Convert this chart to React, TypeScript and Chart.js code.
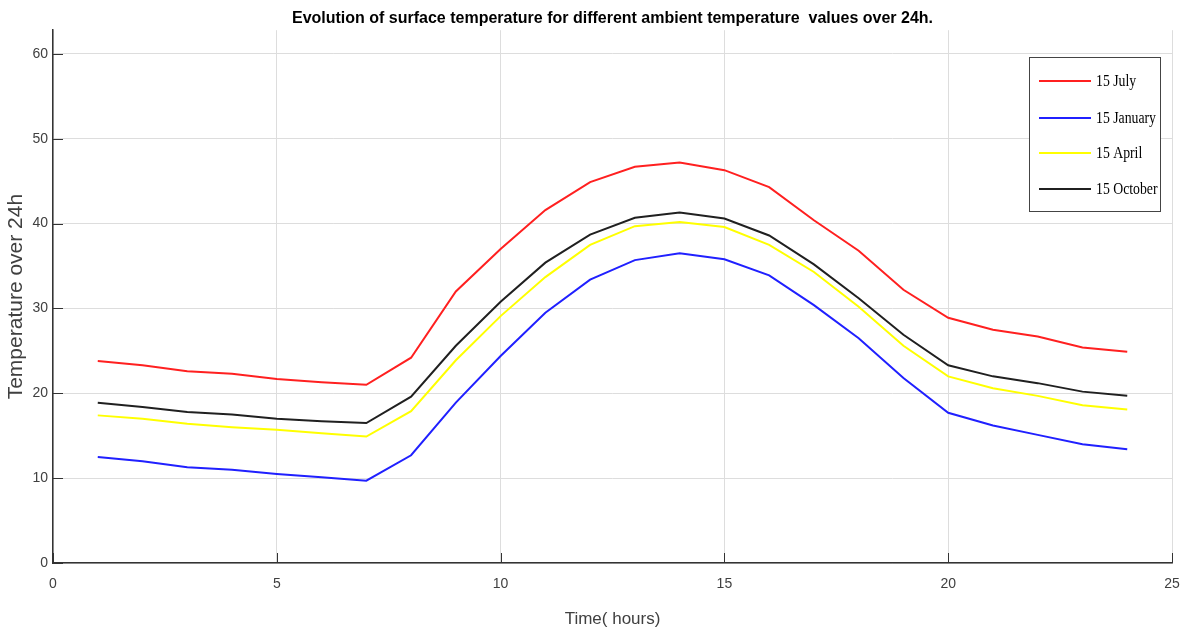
import React, { useEffect, useRef } from "react";
import { Chart, registerables } from "chart.js";

Chart.register(...registerables);

const hours = [1, 2, 3, 4, 5, 6, 7, 8, 9, 10, 11, 12, 13, 14, 15, 16, 17, 18, 19, 20, 21, 22, 23, 24];
const july = [23.8, 23.3, 22.6, 22.3, 21.7, 21.3, 21.0, 24.2, 32.0, 37.0, 41.6, 44.9, 46.7, 47.2, 46.3, 44.3, 40.4, 36.8, 32.2, 28.9, 27.5, 26.7, 25.4, 24.9];
const january = [12.5, 12.0, 11.3, 11.0, 10.5, 10.1, 9.7, 12.7, 18.9, 24.4, 29.5, 33.4, 35.7, 36.5, 35.8, 33.9, 30.4, 26.5, 21.8, 17.7, 16.2, 15.1, 14.0, 13.4];
const april = [17.4, 17.0, 16.4, 16.0, 15.7, 15.3, 14.9, 17.9, 23.9, 29.1, 33.7, 37.5, 39.7, 40.2, 39.6, 37.5, 34.3, 30.2, 25.6, 22.0, 20.6, 19.7, 18.6, 18.1];
const october = [18.9, 18.4, 17.8, 17.5, 17.0, 16.7, 16.5, 19.6, 25.6, 30.8, 35.4, 38.7, 40.7, 41.3, 40.6, 38.6, 35.2, 31.2, 26.9, 23.3, 22.0, 21.2, 20.2, 19.7];
const seriesLabels = ["15 July", "15 January", "15 April", "15 October"];
const seriesColors = ["#ff2020", "#2020ff", "#ffff00", "#202020"];
const yTickValues = [0, 10, 20, 30, 40, 50, 60];
const titleText = "Evolution of surface temperature for different ambient temperature  values over 24h.";
const xTitle = "Time( hours)";
const yTitle = "Temperature over 24h";

const SANS = "'Liberation Sans', Arial, sans-serif";

const inwardTicks = {
  id: "inwardTicks",
  afterDatasetsDraw(chart: any) {
    const { ctx, chartArea, scales } = chart;
    ctx.save();
    ctx.strokeStyle = "#333";
    ctx.lineWidth = 1;
    scales.y.ticks.forEach((t: any) => {
      const y = Math.round(scales.y.getPixelForValue(t.value)) + 0.5;
      ctx.beginPath();
      ctx.moveTo(chartArea.left, y);
      ctx.lineTo(chartArea.left + 10, y);
      ctx.stroke();
    });
    scales.x.ticks.forEach((t: any) => {
      const x = Math.round(scales.x.getPixelForValue(t.value)) + 0.5;
      ctx.beginPath();
      ctx.moveTo(x, chartArea.bottom);
      ctx.lineTo(x, chartArea.bottom - 10);
      ctx.stroke();
    });
    ctx.restore();
  },
};

const boxLegend = {
  id: "boxLegend",
  afterDraw(chart: any) {
    const { ctx } = chart;
    const bx = 1029.5, by = 57.5, bw = 131, bh = 154;
    ctx.save();
    ctx.fillStyle = "#ffffff";
    ctx.fillRect(bx, by, bw, bh);
    ctx.strokeStyle = "#444";
    ctx.lineWidth = 1;
    ctx.strokeRect(bx, by, bw, bh);
    const rows = [81, 118, 153, 189];
    chart.data.datasets.forEach((ds: any, i: number) => {
      const y = rows[i];
      ctx.strokeStyle = ds.borderColor;
      ctx.lineWidth = 2;
      ctx.beginPath();
      ctx.moveTo(1039, y);
      ctx.lineTo(1091, y);
      ctx.stroke();
      ctx.save();
      ctx.translate(1096, y);
      ctx.scale(0.86, 1);
      ctx.fillStyle = "#000";
      ctx.font = "16px 'Liberation Serif', 'Times New Roman', serif";
      ctx.textBaseline = "middle";
      ctx.textAlign = "left";
      ctx.fillText(ds.label, 0, 1);
      ctx.restore();
    });
    ctx.restore();
  },
};

export default function App() {
  const ref = useRef<HTMLCanvasElement>(null);
  useEffect(() => {
    if (!ref.current) return;
    const series = [july, january, april, october];
    const chart = new Chart(ref.current, {
      type: "line",
      data: {
        datasets: series.map((vals, i) => ({
          label: seriesLabels[i],
          data: hours.map((h, k) => ({ x: h, y: vals[k] })),
          borderColor: seriesColors[i],
          backgroundColor: seriesColors[i],
          borderWidth: 2,
          pointRadius: 0,
          tension: 0,
          fill: false,
        })),
      },
      options: {
        animation: false,
        responsive: false,
        layout: { padding: { left: 0, right: 11, top: 0, bottom: 0 } },
        plugins: {
          legend: { display: false },
          tooltip: { enabled: false },
          title: {
            display: true,
            text: titleText,
            fullSize: false,
            color: "#000",
            font: { family: SANS, size: 16, weight: "bold" },
            padding: { top: 9, bottom: 2 },
          },
        },
        scales: {
          x: {
            type: "linear",
            min: 0,
            max: 25,
            ticks: {
              stepSize: 5,
              padding: 13,
              color: "#404040",
              font: { family: SANS, size: 14 },
              maxRotation: 0,
            },
            grid: { color: "#dddddd", lineWidth: 1, drawTicks: false },
            border: { color: "#333", width: 1.5 },
            title: {
              display: true,
              text: xTitle,
              color: "#404040",
              font: { family: SANS, size: 17 },
              padding: { top: 0, bottom: 3 },
            },
            afterFit: (s: any) => {
              s.height = 70;
              s.paddingLeft = 0;
              s.paddingRight = 0;
            },
          },
          y: {
            type: "linear",
            min: 0,
            max: 62.8,
            ticks: {
              stepSize: 10,
              padding: 5,
              color: "#404040",
              font: { family: SANS, size: 14 },
            },
            afterBuildTicks: (s: any) => {
              s.ticks = yTickValues.map((v) => ({ value: v }));
            },
            grid: { color: "#dddddd", lineWidth: 1, drawTicks: false },
            border: { color: "#333", width: 1.5 },
            title: {
              display: true,
              text: yTitle,
              color: "#404040",
              font: { family: SANS, size: 21 },
              padding: { top: 4, bottom: 0 },
            },
            afterFit: (s: any) => {
              s.width = 53;
              s.paddingTop = 0;
              s.paddingBottom = 0;
            },
          },
        },
      },
      plugins: [inwardTicks, boxLegend],
    } as any);
    return () => chart.destroy();
  }, []);
  return (
    <div style={{ position: "absolute", left: 0, top: 0, width: 1183, height: 633, background: "#fff" }}>
      <canvas ref={ref} width={1183} height={633} style={{ display: "block" }} />
    </div>
  );
}
